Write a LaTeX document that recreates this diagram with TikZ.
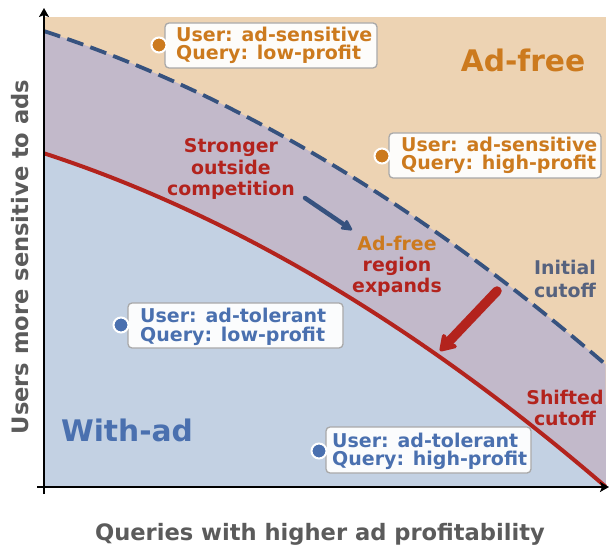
\documentclass[tikz,border=0pt]{standalone}
\usepackage{fontspec}
\setmainfont{DejaVu Sans}
\usetikzlibrary{arrows.meta}

\definecolor{adfreebg}{HTML}{EDD3B3}
\definecolor{shiftbg}{HTML}{C2B9CA}
\definecolor{withadbg}{HTML}{C3D1E3}
\definecolor{orangetxt}{HTML}{CC7A1E}
\definecolor{bluetxt}{HTML}{4A70AF}
\definecolor{cutblue}{HTML}{36527F}
\definecolor{cutred}{HTML}{B3231D}
\definecolor{slatetxt}{HTML}{56627E}
\definecolor{axisgray}{HTML}{5B5B5B}
\definecolor{boxedge}{HTML}{A9A9A9}

\begin{document}
\begin{tikzpicture}[x=1pt,y=-1pt,
  % cutoff curves in pixel units: x = 44 + 562 u, y = 487 - 470 v
  declare function={cutx(\u)=44+562*\u; cuty(\c,\u)=487-470*(\c-0.39*\u-0.32*\u*\u);},
  every node/.style={inner sep=0pt},
  boxtxt/.style={anchor=base west, text=#1, font=\bfseries\fontsize{19}{18}\selectfont},
  notetxt/.style={anchor=base, text=#1, font=\bfseries\fontsize{18.9}{21}\selectfont},
  bigtxt/.style={anchor=base, text=#1, font=\bfseries\fontsize{29.7}{30}\selectfont},
  axistxt/.style={anchor=base, text=axisgray, font=\bfseries\fontsize{22.6}{24}\selectfont},
  tagbox/.style={draw=boxedge, line width=1.3pt, fill=white, fill opacity=0.94, rounded corners=4pt},
  dot/.style={circle, fill=#1, draw=white, line width=2pt, minimum size=15pt},
  axisline/.style={line width=2.2pt, -{Stealth[length=9pt,width=10pt,inset=2pt]}},
]
\useasboundingbox (0,0) rectangle (610,545);

% regions
\fill[adfreebg] (44,17) rectangle (606,487);
\fill[shiftbg] (44,487) -- plot[domain=0:1,samples=80] ({cutx(\x)},{cuty(0.97,\x)}) -- (606,487) -- cycle;
\fill[withadbg] (44,487) -- plot[domain=0:1,samples=80] ({cutx(\x)},{cuty(0.71,\x)}) -- cycle;

% cutoffs
\draw[cutblue, line width=3.8pt, dash pattern=on 17pt off 7.5pt]
  plot[domain=0:1,samples=80] ({cutx(\x)},{cuty(0.97,\x)});
\draw[cutred, line width=4pt]
  plot[domain=0:1,samples=80] ({cutx(\x)},{cuty(0.71,\x)});

% axes
\coordinate (origin) at (44,487);
\coordinate (ybase) at (44,494);
\coordinate (ytip) at (44,8);
\coordinate (xbase) at (37,487);
\coordinate (xtip) at (609,487);
\draw[axisline] (ybase) -- (ytip);
\draw[axisline] (xbase) -- (xtip);

\node[axistxt, rotate=90] (ylabel) at (28,257) {Users more sensitive to ads};
\node[axistxt] (xlabel) at (320,540) {Queries with higher ad profitability};

% region names
\node[bigtxt=orangetxt] (adfree) at (523,72) {Ad-free};
\node[bigtxt=bluetxt] (withad) at (127,441) {With-ad};

% example points
\draw[tagbox] (165,23) rectangle (377,68);
\draw[tagbox] (389,133) rectangle (601,178);
\draw[tagbox] (128,303) rectangle (343,348);
\draw[tagbox] (326,427) rectangle (531,473);

\node[dot=orangetxt] (p1) at (159,45) {};
\node[dot=orangetxt] (p2) at (382,156) {};
\node[dot=bluetxt] (p3) at (121,325) {};
\node[dot=bluetxt] (p4) at (319,451) {};

\node[boxtxt=orangetxt] (p1a) at (176,42) {User: ad-sensitive};
\node[boxtxt=orangetxt] (p1b) at (176,60) {Query: low-profit};
\node[boxtxt=orangetxt] (p2a) at (401,152) {User: ad-sensitive};
\node[boxtxt=orangetxt] (p2b) at (401,170) {Query: high-profit};
\node[boxtxt=bluetxt] (p3a) at (140,322) {User: ad-tolerant};
\node[boxtxt=bluetxt] (p3b) at (140,341) {Query: low-profit};
\node[boxtxt=bluetxt] (p4a) at (332,447) {User: ad-tolerant};
\node[boxtxt=bluetxt] (p4b) at (332,465) {Query: high-profit};

% annotations
\node[notetxt=cutred] (s1) at (231,153) {Stronger};
\node[notetxt=cutred] (s2) at (231,175) {outside};
\node[notetxt=cutred] (s3) at (231,196) {competition};

\node[notetxt=orangetxt] (e1) at (397,250.5) {Ad-free};
\node[notetxt=cutred] (e2) at (397,271.5) {region};
\node[notetxt=cutred] (e3) at (397,292.5) {expands};

\node[notetxt=slatetxt] (i1) at (565,275) {Initial};
\node[notetxt=slatetxt] (i2) at (565,297) {cutoff};

\node[notetxt=cutred] (f1) at (565,404) {Shifted};
\node[notetxt=cutred] (f2) at (565,425) {cutoff};

% shift arrows
\coordinate (pushfrom) at (305,198);
\coordinate (pushto) at (352,230);
\draw[cutblue, line width=4.5pt, line cap=round,
  -{Stealth[length=13pt,width=13pt,inset=2pt,round]}] (pushfrom) -- (pushto);
\coordinate (shiftfrom) at (497,291);
\coordinate (shiftto) at (440,351);
\draw[cutred, line width=9.5pt, line cap=round,
  -{Stealth[length=18pt,width=23pt,inset=3pt,round]}] (shiftfrom) -- (shiftto);
\end{tikzpicture}
\end{document}
